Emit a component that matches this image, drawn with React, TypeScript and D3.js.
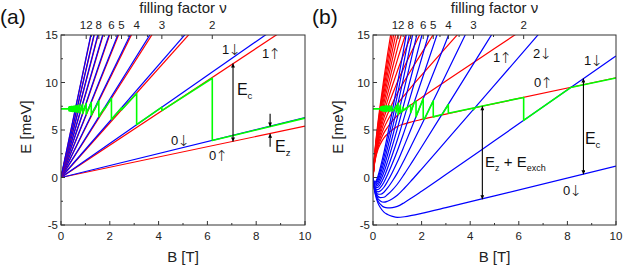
import React, { useEffect, useRef } from 'react';
import * as d3 from 'd3';

// Landau level slopes (meV/T) (a)
const levelN = [0, 1, 2, 3, 4, 5, 6, 7, 8, 9, 10, 11, 12];
const slopeUp = [0.54, 1.7, 2.87, 4.03, 5.2, 6.36, 7.53, 8.69, 9.86, 11.02, 12.19, 13.35, 14.52];
const slopeDown = [0.63, 1.79, 2.96, 4.12, 5.29, 6.45, 7.62, 8.78, 9.95, 11.11, 12.28, 13.44, 14.61];
const levelsInA = 11;

const exchB = [0, 0.05, 0.1, 0.2, 0.3, 0.45, 0.6, 0.8, 1.0, 1.3, 1.6, 2.0, 3.0, 5.0, 10];
const exchShift = [0, 1.2, 1.9, 2.8, 3.35, 3.93, 4.27, 4.6, 4.83, 4.95, 5.0, 5.03, 5.06, 5.08, 5.1];

// filling factor axis: nu * B
const nuTimesB = 12.4;
const nuLabels = [2, 3, 4, 5, 6, 8, 12];
const nuMinor = [2.5, 3.5, 4.5, 5.5, 7, 10];
const bTicks = [0, 2, 4, 6, 8, 10];
const bMinor = [1, 3, 5, 7, 9];
const eTicks = [-5, 0, 5, 10, 15];
const eMinor = [-2.5, 2.5, 7.5, 12.5];

// Fermi energy (green), panel (a)
const fermiA: [number, number][] = [
  [0, 7.22], [0.31, 7.22], [0.326, 7.42], [0.326, 7.02], [0.344, 7.43], [0.344, 7.01],
  [0.365, 7.44], [0.365, 7.0], [0.388, 7.45], [0.388, 6.99], [0.413, 7.46], [0.413, 6.98],
  [0.443, 7.47], [0.443, 6.97], [0.477, 7.48], [0.477, 6.96], [0.496, 7.2], [0.517, 7.5],
  [0.517, 6.95], [0.539, 7.24], [0.539, 7.2], [0.564, 7.53], [0.564, 6.93], [0.59, 7.25],
  [0.59, 7.19], [0.62, 7.56], [0.62, 6.89], [0.653, 7.26], [0.653, 7.19], [0.689, 7.59],
  [0.689, 6.85], [0.729, 7.25], [0.729, 7.19], [0.775, 7.64], [0.775, 6.81], [0.827, 7.26],
  [0.827, 7.19], [0.886, 7.7], [0.886, 6.75], [0.954, 7.27], [0.954, 7.18], [1.033, 7.78],
  [1.033, 6.67], [1.127, 7.27], [1.127, 7.17], [1.24, 7.89], [1.24, 6.56], [1.378, 7.29],
  [1.378, 7.16], [1.55, 8.06], [1.55, 6.39], [1.771, 7.3], [1.771, 7.14], [2.067, 8.33],
  [2.067, 6.11], [2.48, 7.33], [2.48, 7.11], [3.1, 8.85], [3.1, 5.56], [4.133, 7.41],
  [4.133, 7.04], [6.2, 10.45], [6.2, 3.89], [10, 6.25],
];

// Fermi energy (green), panel (b)
const fermiB: [number, number][] = [
  [0, 7.22], [0.31, 7.22], [0.33, 7.45], [0.33, 7.05], [0.36, 7.45], [0.36, 7.05],
  [0.4, 7.5], [0.4, 7.0], [0.45, 7.5], [0.45, 7.0], [0.5, 7.52], [0.5, 6.98],
  [0.56, 7.55], [0.56, 6.95], [0.62, 7.5], [0.62, 7.0], [0.69, 7.55], [0.69, 6.95],
  [0.775, 7.5], [0.775, 7.0], [0.827, 7.02], [0.886, 7.26], [0.886, 7.19], [0.954, 7.54],
  [0.954, 6.91], [1.033, 7.81], [1.033, 6.62], [1.127, 7.61], [1.127, 6.83], [1.191, 6.94],
  [1.24, 7.39], [1.24, 7.05], [1.378, 7.32], [1.378, 7.13], [1.404, 7.36], [1.55, 7.64],
  [1.55, 6.81], [1.69, 7.88], [1.771, 8.04], [1.771, 6.41], [2.067, 8.3], [2.067, 6.15],
  [2.122, 6.18], [2.48, 8.06], [2.48, 6.38], [2.845, 6.63], [3.1, 7.68], [3.1, 6.77],
  [4.133, 7.32], [4.133, 7.12], [4.215, 7.37], [6.2, 8.43], [6.2, 6.01], [8.13, 9.47],
  [10, 10.48],
];

type Note = { text: string; arrow?: string; sub?: string; text2?: string; sub2?: string; b: number; e: number; size: number };

const notesA: Note[] = [
  { text: '1', arrow: '↓', b: 6.6, e: 13.0, size: 13 },
  { text: '1', arrow: '↑', b: 8.24, e: 12.55, size: 13 },
  { text: 'E', sub: 'c', b: 7.21, e: 8.68, size: 16 },
  { text: '0', arrow: '↓', b: 4.51, e: 3.42, size: 13 },
  { text: '0', arrow: '↑', b: 6.07, e: 1.84, size: 13 },
  { text: 'E', sub: 'z', b: 8.77, e: 2.68, size: 16 },
];
const notesB: Note[] = [
  { text: '1', arrow: '↑', b: 4.94, e: 12.16, size: 13 },
  { text: '2', arrow: '↓', b: 6.58, e: 12.58, size: 13 },
  { text: '1', arrow: '↓', b: 8.68, e: 11.84, size: 13 },
  { text: '0', arrow: '↑', b: 6.63, e: 9.53, size: 13 },
  { text: 'E', sub: 'z', text2: ' + E', sub2: 'exch', b: 4.61, e: 1.1, size: 15 },
  { text: 'E', sub: 'c', b: 8.72, e: 3.53, size: 16 },
  { text: '0', arrow: '↓', b: 7.82, e: -1.84, size: 13 },
];

// arrows: [B, from E, to E, double headed?]
const arrowsA: [number, number, number, boolean][] = [
  [7.05, 3.79, 12.0, true],
  [8.57, 6.7, 5.38, false],
  [8.57, 3.25, 4.61, false],
];
const arrowsB: [number, number, number, boolean][] = [
  [4.5, 7.5, -2.28, true],
  [8.66, 10.42, 0.33, true],
];

const FONT = 'Liberation Sans, Arial, Helvetica, sans-serif';
const TOP = 35;
const BOTTOM = 225;

const App: React.FC = () => {
  const svgRef = useRef<SVGSVGElement>(null);

  useEffect(() => {
    if (!svgRef.current) return;
    const svg = d3.select(svgRef.current);
    svg.selectAll('*').remove();

    const defs = svg.append('defs');
    defs
      .append('marker')
      .attr('id', 'head')
      .attr('viewBox', '0 0 10 10')
      .attr('refX', 10)
      .attr('refY', 5)
      .attr('markerWidth', 6)
      .attr('markerHeight', 4)
      .attr('markerUnits', 'userSpaceOnUse')
      .attr('orient', 'auto-start-reverse')
      .append('path')
      .attr('d', 'M 0 0 L 10 5 L 0 10 Z')
      .attr('fill', '#000');

    const drawPanel = (
      id: string,
      label: string,
      left: number,
      right: number,
      withExchange: boolean,
      fermi: [number, number][],
      notes: Note[],
      arrows: [number, number, number, boolean][],
    ) => {
      const x = d3.scaleLinear().domain([0, 10]).range([left, right]);
      const y = d3.scaleLinear().domain([-5, 15]).range([BOTTOM, TOP]);
      const g = svg.append('g');

      defs
        .append('clipPath')
        .attr('id', `clip-${id}`)
        .append('rect')
        .attr('x', left)
        .attr('y', TOP)
        .attr('width', right - left)
        .attr('height', BOTTOM - TOP);

      const plot = g.append('g').attr('clip-path', `url(#clip-${id})`);
      const line = d3
        .line<[number, number]>()
        .x((d) => x(d[0]))
        .y((d) => y(d[1]));
      const smooth = d3
        .line<[number, number]>()
        .x((d) => x(d[0]))
        .y((d) => y(d[1]))
        .curve(d3.curveMonotoneX);

      const count = withExchange ? levelN.length : levelsInA;
      for (let i = 0; i < count; i++) {
        if (withExchange) {
          const down = exchB.map((b, k) => [b, slopeDown[i] * b - exchShift[k]] as [number, number]);
          const up = exchB.map((b, k) => [b, slopeUp[i] * b + exchShift[k]] as [number, number]);
          plot.append('path').attr('d', smooth(down)!).attr('fill', 'none').attr('stroke', '#0000ff').attr('stroke-width', 1.2);
          plot.append('path').attr('d', smooth(up)!).attr('fill', 'none').attr('stroke', '#ff0000').attr('stroke-width', 1.2);
        } else {
          plot
            .append('path')
            .attr('d', line([[0, 0], [10, slopeUp[i] * 10]])!)
            .attr('fill', 'none')
            .attr('stroke', '#ff0000')
            .attr('stroke-width', 1.2);
          plot
            .append('path')
            .attr('d', line([[0, 0], [10, slopeDown[i] * 10]])!)
            .attr('fill', 'none')
            .attr('stroke', '#0000ff')
            .attr('stroke-width', 1.2);
        }
      }

      plot
        .append('path')
        .attr('d', line(fermi)!)
        .attr('fill', 'none')
        .attr('stroke', '#00ff00')
        .attr('stroke-width', 1.6)
        .attr('stroke-linejoin', 'round');

      arrows.forEach(([b, e0, e1, both]) => {
        const a = g
          .append('line')
          .attr('x1', x(b))
          .attr('x2', x(b))
          .attr('y1', y(e0))
          .attr('y2', y(e1))
          .attr('stroke', '#000')
          .attr('stroke-width', 1.1)
          .attr('marker-end', 'url(#head)');
        if (both) a.attr('marker-start', 'url(#head)');
      });

      // frame
      g.append('rect')
        .attr('x', left)
        .attr('y', TOP)
        .attr('width', right - left)
        .attr('height', BOTTOM - TOP)
        .attr('fill', 'none')
        .attr('stroke', '#333')
        .attr('stroke-width', 1);

      const tick = (x1: number, y1: number, x2: number, y2: number) =>
        g.append('line').attr('x1', x1).attr('y1', y1).attr('x2', x2).attr('y2', y2).attr('stroke', '#333').attr('stroke-width', 1);

      bTicks.forEach((b) => {
        tick(x(b), BOTTOM, x(b), BOTTOM - 4);
        g.append('text')
          .attr('x', x(b))
          .attr('y', BOTTOM + 15)
          .attr('text-anchor', 'middle')
          .attr('font-size', 11.5)
          .attr('font-family', FONT)
          .attr('fill', '#222')
          .text(b);
      });
      bMinor.forEach((b) => tick(x(b), BOTTOM, x(b), BOTTOM - 2));
      eTicks.forEach((e) => {
        tick(left, y(e), left + 4, y(e));
        g.append('text')
          .attr('x', left - 3)
          .attr('y', y(e) + 4)
          .attr('text-anchor', 'end')
          .attr('font-size', 11.5)
          .attr('font-family', FONT)
          .attr('fill', '#222')
          .text(e);
      });
      eMinor.forEach((e) => tick(left, y(e), left + 2, y(e)));
      nuLabels.forEach((nu) => {
        const px = x(nuTimesB / nu);
        tick(px, TOP, px, TOP + 4);
        g.append('text')
          .attr('x', px)
          .attr('y', TOP - 6)
          .attr('text-anchor', 'middle')
          .attr('font-size', 11.5)
          .attr('font-family', FONT)
          .attr('fill', '#222')
          .text(nu);
      });
      nuMinor.forEach((nu) => {
        const px = x(nuTimesB / nu);
        tick(px, TOP, px, TOP + 2);
      });

      const mid = (left + right) / 2;
      g.append('text')
        .attr('x', mid)
        .attr('y', 13)
        .attr('text-anchor', 'middle')
        .attr('font-size', 15)
        .attr('font-family', FONT)
        .attr('fill', '#222')
        .text('filling factor ν');
      g.append('text')
        .attr('x', mid)
        .attr('y', 262)
        .attr('text-anchor', 'middle')
        .attr('font-size', 15)
        .attr('font-family', FONT)
        .attr('fill', '#222')
        .text('B [T]');
      g.append('text')
        .attr('transform', `translate(${left - 30},${(TOP + BOTTOM) / 2 - 3}) rotate(-90)`)
        .attr('text-anchor', 'middle')
        .attr('font-size', 15)
        .attr('font-family', FONT)
        .attr('fill', '#222')
        .text('E [meV]');
      g.append('text')
        .attr('x', left - 61)
        .attr('y', 24)
        .attr('font-size', 21)
        .attr('font-family', FONT)
        .attr('fill', '#111')
        .text(label);

      notes.forEach((n) => {
        const t = g
          .append('text')
          .attr('x', x(n.b))
          .attr('y', y(n.e))
          .attr('font-size', n.size)
          .attr('font-family', FONT)
          .attr('fill', '#111');
        t.append('tspan').text(n.text);
        if (n.arrow)
          t.append('tspan')
            .attr('font-family', 'DejaVu Sans, sans-serif')
            .attr('font-weight', 300)
            .attr('font-size', n.size + 2)
            .attr('dx', -1)
            .attr('dy', 1)
            .text(n.arrow);
        if (n.sub) t.append('tspan').attr('font-size', n.size * 0.6).attr('dy', 4).text(n.sub);
        if (n.text2) t.append('tspan').attr('dy', -4).text(n.text2);
        if (n.sub2) t.append('tspan').attr('font-size', n.size * 0.6).attr('dy', 4).text(n.sub2);
      });
    };

    drawPanel('a', '(a)', 61, 305, false, fermiA, notesA, arrowsA);
    drawPanel('b', '(b)', 373, 616, true, fermiB, notesB, arrowsB);
  }, []);

  return (
    <svg
      ref={svgRef}
      width={623}
      height={266}
      style={{ position: 'absolute', left: 0, top: 0, background: '#fff' }}
    />
  );
};

export default App;
